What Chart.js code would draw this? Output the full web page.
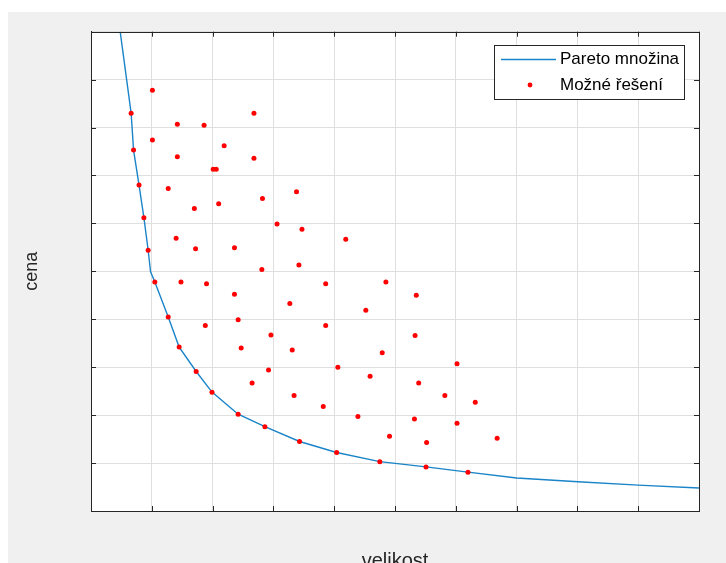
<!DOCTYPE html>
<html>
<head>
<meta charset="utf-8">
<script src="https://cdn.jsdelivr.net/npm/chart.js@4/dist/chart.umd.min.js"></script>
<style>
  html, body { margin: 0; padding: 0; background: #ffffff; }
  #wrap { width: 726px; height: 563px; position: relative; }
</style>
</head>
<body>
<div id="wrap"><canvas id="c" width="726" height="563"></canvas></div>
<script>
// ---- data ----
const xAxisLabel = 'velikost';
const yAxisLabel = 'cena';
const lineLabel = 'Pareto množina';
const pointLabel = 'Možné řešení';

const axisMin = 0;
const axisMax = 10;
const axisStep = 1;

const paretoX = [0.48, 0.66, 0.70, 0.79, 0.87, 0.94, 0.98, 1.05, 1.27, 1.45, 1.73, 1.99, 2.42, 2.86, 3.43, 4.04, 4.75, 5.51, 6.20, 7.00, 8.01, 9.00, 10.00];
const paretoY = [10.00, 8.30, 7.53, 6.80, 6.12, 5.44, 4.99, 4.78, 4.05, 3.42, 2.91, 2.48, 2.02, 1.76, 1.45, 1.22, 1.03, 0.92, 0.81, 0.69, 0.61, 0.54, 0.48];

const resX = [0.66, 0.70, 0.79, 0.87, 0.94, 1.05, 1.27, 1.45, 1.73, 1.99, 2.42, 2.86, 3.43, 4.04, 4.75, 5.51, 6.20,
  1.01, 1.42, 1.86, 2.68, 1.01, 2.19, 1.42, 2.68, 2.01, 2.06, 1.27, 1.70, 2.10, 2.82, 3.06, 1.40, 1.72, 2.36, 2.81,
  1.48, 1.90, 2.36, 2.42, 1.88, 2.96, 2.47, 2.92, 2.65, 3.38, 3.47, 4.19, 3.42, 3.86, 4.85, 5.35, 3.27, 4.52, 3.86,
  5.33, 3.31, 4.79, 4.06, 4.59, 5.39, 5.82, 3.34, 3.82, 4.39, 5.32, 5.52, 4.91, 6.02, 6.32, 6.02, 6.68];
const resY = [8.30, 7.53, 6.80, 6.12, 5.44, 4.78, 4.05, 3.42, 2.91, 2.48, 2.02, 1.76, 1.45, 1.22, 1.03, 0.92, 0.81,
  8.78, 8.07, 8.05, 8.30, 7.74, 7.62, 7.39, 7.36, 7.13, 7.13, 6.73, 6.31, 6.41, 6.52, 5.99, 5.69, 5.47, 5.49, 5.04,
  4.78, 4.74, 4.52, 3.99, 3.87, 3.67, 3.40, 2.94, 2.67, 6.66, 5.88, 5.67, 5.13, 4.74, 4.78, 4.50, 4.33, 4.19, 3.87,
  3.66, 3.36, 3.30, 3.00, 2.81, 2.67, 2.41, 2.41, 2.18, 1.97, 1.92, 1.43, 1.56, 3.07, 2.27, 1.83, 1.52];

// ---- styling ----
const LINE_COLOR = '#1a84c8';
const DOT_COLOR = '#ff0000';
const AXIS_COLOR = '#262626';
const GRID_COLOR = '#dfdfdf';
const FONT = '"Liberation Sans", Arial, Helvetica, sans-serif';

const paretoData = paretoX.map((x, i) => ({ x: x, y: paretoY[i] }));
const resData = resX.map((x, i) => ({ x: x, y: resY[i] }));

const frame = {
  id: 'frame',
  beforeDraw(chart) {
    const ctx = chart.ctx;
    const a = chart.chartArea;
    ctx.save();
    ctx.fillStyle = '#ffffff';
    ctx.fillRect(0, 0, chart.width, chart.height);
    ctx.fillStyle = '#f0f0f0';
    ctx.fillRect(8, 12, chart.width - 8, chart.height - 12);
    ctx.fillStyle = '#ffffff';
    ctx.fillRect(a.left, a.top, a.right - a.left, a.bottom - a.top);
    ctx.restore();
  },
  afterDraw(chart) {
    const ctx = chart.ctx;
    const a = chart.chartArea;
    const xs = chart.scales.x, ys = chart.scales.y;
    ctx.save();
    ctx.strokeStyle = AXIS_COLOR;
    ctx.lineWidth = 1;
    // box
    ctx.beginPath();
    ctx.rect(Math.round(a.left) + 0.5, Math.round(a.top) + 0.5, Math.round(a.right - a.left), Math.round(a.bottom - a.top));
    ctx.stroke();
    // inward tick marks
    const tl = 5;
    ctx.beginPath();
    xs.ticks.forEach(t => {
      const px = Math.round(xs.getPixelForValue(t.value)) + 0.5;
      ctx.moveTo(px, a.bottom); ctx.lineTo(px, a.bottom - tl);
      ctx.moveTo(px, a.top); ctx.lineTo(px, a.top + tl);
    });
    ys.ticks.forEach(t => {
      const py = Math.round(ys.getPixelForValue(t.value)) + 0.5;
      ctx.moveTo(a.left, py); ctx.lineTo(a.left + tl, py);
      ctx.moveTo(a.right, py); ctx.lineTo(a.right - tl, py);
    });
    ctx.stroke();

    // legend (MATLAB-like box)
    const lx = 494.5, ly = 45.5, lw = 190, lh = 54;
    ctx.fillStyle = '#ffffff';
    ctx.fillRect(lx, ly, lw, lh);
    ctx.strokeStyle = AXIS_COLOR;
    ctx.strokeRect(lx, ly, lw, lh);
    const ds = chart.data.datasets;
    const row1 = ly + 14, row2 = ly + 39.5;
    ctx.strokeStyle = ds[0].borderColor;
    ctx.lineWidth = 1.4;
    ctx.beginPath();
    ctx.moveTo(501, row1); ctx.lineTo(556, row1);
    ctx.stroke();
    ctx.fillStyle = ds[1].backgroundColor;
    ctx.beginPath();
    ctx.arc(530, row2, 2.4, 0, Math.PI * 2);
    ctx.fill();
    ctx.fillStyle = '#000000';
    ctx.font = '17px ' + FONT;
    ctx.textBaseline = 'middle';
    ctx.textAlign = 'left';
    ctx.fillText(ds[0].label, 560, row1);
    ctx.fillText(ds[1].label, 560, row2);
    ctx.restore();
  }
};

new Chart(document.getElementById('c'), {
  type: 'scatter',
  data: {
    datasets: [
      {
        label: lineLabel,
        data: paretoData,
        showLine: true,
        borderColor: LINE_COLOR,
        backgroundColor: LINE_COLOR,
        borderWidth: 1.4,
        pointRadius: 0,
        pointHoverRadius: 0,
        tension: 0,
        fill: false,
        order: 2
      },
      {
        label: pointLabel,
        data: resData,
        showLine: false,
        backgroundColor: DOT_COLOR,
        borderColor: DOT_COLOR,
        borderWidth: 0,
        pointRadius: 2.5,
        pointHoverRadius: 2.5,
        order: 1
      }
    ]
  },
  options: {
    responsive: false,
    animation: false,
    devicePixelRatio: 1,
    layout: { padding: { left: 8, top: 31.7, right: 27, bottom: 0 } },
    plugins: {
      legend: { display: false },
      tooltip: { enabled: false },
      title: { display: false }
    },
    scales: {
      x: {
        type: 'linear',
        min: axisMin, max: axisMax,
        ticks: { display: false, stepSize: axisStep },
        grid: { color: GRID_COLOR, drawTicks: false, lineWidth: 1 },
        border: { display: true, color: AXIS_COLOR, width: 1 },
        title: {
          display: true, text: xAxisLabel, color: AXIS_COLOR,
          font: { family: FONT, size: 20, lineHeight: 1.2 },
          padding: { top: 38, bottom: -10 }
        }
      },
      y: {
        type: 'linear',
        min: axisMin, max: axisMax,
        ticks: { display: false, stepSize: axisStep },
        grid: { color: GRID_COLOR, drawTicks: false, lineWidth: 1 },
        border: { display: true, color: AXIS_COLOR, width: 1 },
        title: {
          display: true, text: yAxisLabel, color: AXIS_COLOR,
          font: { family: FONT, size: 18, lineHeight: 1.2 },
          padding: { top: 13.6, bottom: 47.8 }
        }
      }
    }
  },
  plugins: [frame]
});
</script>
</body>
</html>
